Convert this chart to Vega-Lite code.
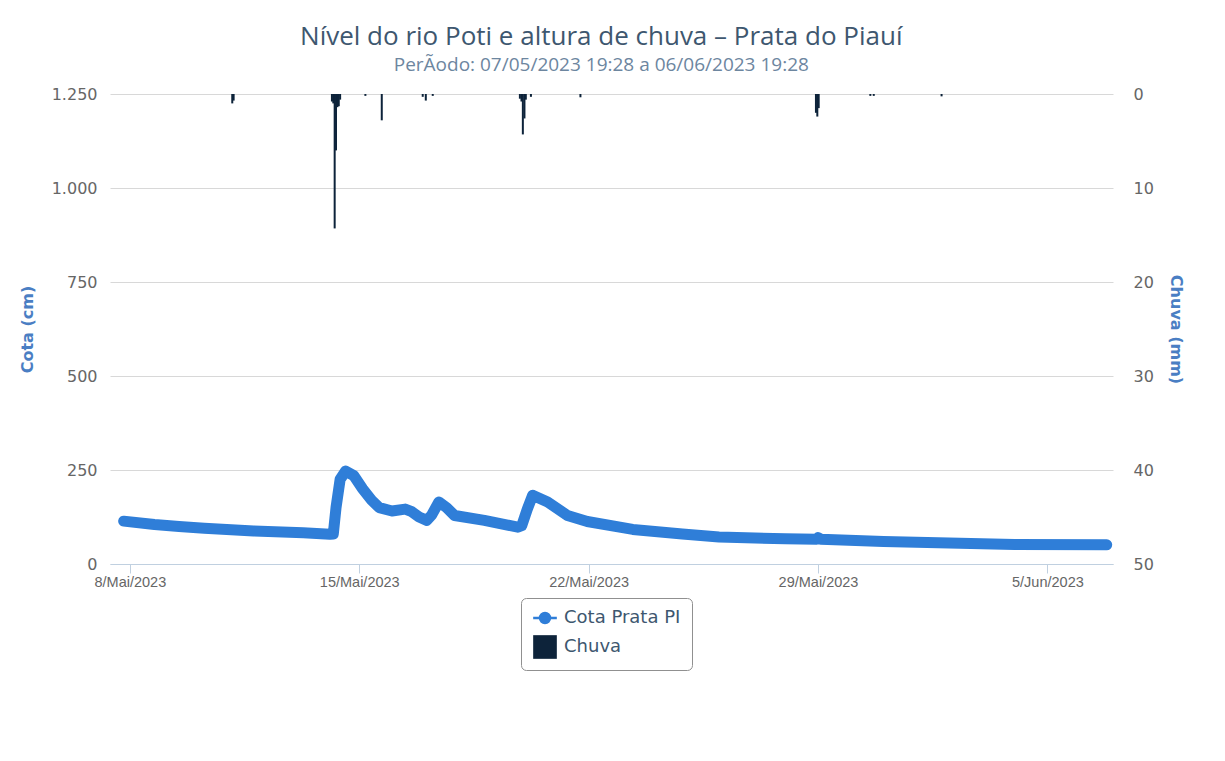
{
  "$schema": "https://vega.github.io/schema/vega-lite/v6.json",
  "width": 1003,
  "height": 470,
  "autosize": {"type": "none"},
  "padding": {"left": 110, "top": 94, "right": 112, "bottom": 197},
  "background": "white",
  "title": {
    "text": "Nível do rio Poti e altura de chuva – Prata do Piauí",
    "subtitle": "PerÃodo: 07/05/2023 19:28 a 06/06/2023 19:28",
    "anchor": "middle",
    "frame": "bounds",
    "font": "Open Sans",
    "fontSize": 26,
    "fontWeight": "normal",
    "color": "#3E576F",
    "subtitleFont": "Open Sans",
    "subtitleFontSize": 19,
    "subtitleColor": "#6D869F",
    "subtitlePadding": 6,
    "offset": 11
  },
  "config": {"view": {"stroke": null}},
  "datasets": {
    "cota": [
      {"t": "2023-05-07T19:28", "v": 114},
      {"t": "2023-05-08T18:00", "v": 105},
      {"t": "2023-05-09T12:00", "v": 100},
      {"t": "2023-05-10T06:30", "v": 95},
      {"t": "2023-05-11T18:40", "v": 88},
      {"t": "2023-05-13T07:00", "v": 83},
      {"t": "2023-05-14T02:30", "v": 79},
      {"t": "2023-05-14T05:00", "v": 80},
      {"t": "2023-05-14T07:00", "v": 150},
      {"t": "2023-05-14T10:00", "v": 225},
      {"t": "2023-05-14T14:00", "v": 247},
      {"t": "2023-05-14T20:00", "v": 235},
      {"t": "2023-05-15T02:30", "v": 200},
      {"t": "2023-05-15T09:00", "v": 170},
      {"t": "2023-05-15T14:40", "v": 150},
      {"t": "2023-05-16T00:00", "v": 141},
      {"t": "2023-05-16T09:40", "v": 146},
      {"t": "2023-05-16T14:00", "v": 140},
      {"t": "2023-05-16T19:50", "v": 125},
      {"t": "2023-05-17T01:30", "v": 116},
      {"t": "2023-05-17T05:00", "v": 130},
      {"t": "2023-05-17T10:20", "v": 165},
      {"t": "2023-05-17T16:00", "v": 150},
      {"t": "2023-05-17T21:50", "v": 129},
      {"t": "2023-05-18T19:40", "v": 116},
      {"t": "2023-05-19T20:10", "v": 98},
      {"t": "2023-05-19T23:00", "v": 102},
      {"t": "2023-05-20T03:00", "v": 145},
      {"t": "2023-05-20T07:00", "v": 183},
      {"t": "2023-05-20T18:00", "v": 165},
      {"t": "2023-05-21T08:30", "v": 129},
      {"t": "2023-05-21T23:00", "v": 113},
      {"t": "2023-05-23T08:20", "v": 92},
      {"t": "2023-05-24T20:40", "v": 80},
      {"t": "2023-05-25T23:30", "v": 72},
      {"t": "2023-05-28T00:00", "v": 67},
      {"t": "2023-05-28T23:00", "v": 66},
      {"t": "2023-05-29T00:00", "v": 70},
      {"t": "2023-05-29T02:00", "v": 66},
      {"t": "2023-05-31T00:00", "v": 60},
      {"t": "2023-06-02T00:00", "v": 56},
      {"t": "2023-06-04T00:00", "v": 52},
      {"t": "2023-06-06T19:28", "v": 51}
    ],
    "chuva": [
      {"t": "2023-05-11T03:00", "mm": 1.0},
      {"t": "2023-05-11T04:00", "mm": 0.7},
      {"t": "2023-05-14T04:00", "mm": 0.8},
      {"t": "2023-05-14T05:00", "mm": 1.0},
      {"t": "2023-05-14T06:00", "mm": 14.3},
      {"t": "2023-05-14T07:00", "mm": 6.0},
      {"t": "2023-05-14T08:00", "mm": 1.4},
      {"t": "2023-05-14T09:00", "mm": 1.3},
      {"t": "2023-05-14T10:00", "mm": 0.6},
      {"t": "2023-05-15T04:30", "mm": 0.2},
      {"t": "2023-05-15T16:30", "mm": 2.8},
      {"t": "2023-05-16T22:30", "mm": 0.3},
      {"t": "2023-05-17T00:45", "mm": 0.7},
      {"t": "2023-05-17T05:50", "mm": 0.2},
      {"t": "2023-05-19T21:40", "mm": 0.5},
      {"t": "2023-05-19T22:50", "mm": 0.8},
      {"t": "2023-05-19T23:50", "mm": 4.3},
      {"t": "2023-05-20T01:00", "mm": 2.6},
      {"t": "2023-05-20T02:00", "mm": 0.6},
      {"t": "2023-05-20T05:45", "mm": 0.3},
      {"t": "2023-05-21T18:00", "mm": 0.35},
      {"t": "2023-05-28T22:30", "mm": 2.0},
      {"t": "2023-05-28T23:30", "mm": 2.4},
      {"t": "2023-05-29T00:30", "mm": 1.5},
      {"t": "2023-05-30T14:20", "mm": 0.2},
      {"t": "2023-05-30T16:50", "mm": 0.2},
      {"t": "2023-06-01T18:30", "mm": 0.25}
    ]
  },
  "layer": [
    {
      "data": {"name": "chuva"},
      "mark": {"type": "bar", "size": 2},
      "encoding": {
        "x": {
          "field": "t",
          "type": "temporal",
          "scale": {"domain": [{"year": 2023, "month": "may", "date": 7, "hours": 13, "minutes": 7}, {"year": 2023, "month": "jun", "date": 6, "hours": 20, "minutes": 24}], "nice": false},
          "axis": {
            "title": null,
            "values": [{"year": 2023, "month": "may", "date": 8}, {"year": 2023, "month": "may", "date": 15}, {"year": 2023, "month": "may", "date": 22}, {"year": 2023, "month": "may", "date": 29}, {"year": 2023, "month": "jun", "date": 5}],
            "labelExpr": "date(datum.value) + '/' + ['Jan','Fev','Mar','Abr','Mai','Jun','Jul','Ago','Set','Out','Nov','Dez'][month(datum.value)] + '/' + year(datum.value)",
            "grid": false,
            "domainColor": "#C0D0E0",
            "tickColor": "#C0D0E0",
            "tickSize": 9,
            "labelFont": "Liberation Sans",
            "labelFontSize": 14.5,
            "labelColor": "#666666",
            "labelPadding": 2,
            "labelFlush": false,
            "labelOverlap": false
          }
        },
        "y": {
          "field": "mm",
          "type": "quantitative",
          "stack": null,
          "scale": {"domain": [0, 50], "reverse": true, "nice": false},
          "axis": {
            "orient": "right",
            "values": [0, 10, 20, 30, 40, 50],
            "grid": false,
            "domain": false,
            "ticks": false,
            "labelPadding": 20,
            "labelFont": "DejaVu Sans",
            "labelFontSize": 16,
            "labelColor": "#666666",
            "title": "Chuva (mm)",
            "titleFont": "DejaVu Sans",
            "titleFontSize": 16,
            "titleFontWeight": "bold",
            "titleColor": "#4a7ec3",
            "titlePadding": 14
          }
        },
        "color": {
          "datum": "Chuva",
          "type": "nominal",
          "scale": {"domain": ["Cota Prata PI", "Chuva"], "range": ["#2f7ed8", "#0d233a"]},
          "legend": {
            "orient": "none",
            "legendX": 411,
            "legendY": 504,
            "direction": "vertical",
            "title": null,
            "strokeColor": "#909090",
            "cornerRadius": 5,
            "padding": 11,
            "symbolOffset": 4,
            "fillColor": "white",
            "labelFont": "DejaVu Sans",
            "labelFontSize": 18,
            "labelColor": "#3E576F",
            "symbolSize": 560,
            "rowPadding": 7,
            "labelOffset": 10,
            "encode": {
              "symbols": {
                "update": {
                  "shape": {"signal": "datum.value === 'Chuva' ? 'square' : 'M-1,0L1,0M-0.42,0A0.42,0.42,0,1,0,0.42,0A0.42,0.42,0,1,0,-0.42,0Z'"},
                  "fill": {"signal": "datum.value === 'Chuva' ? '#0d233a' : '#2f7ed8'"},
                  "stroke": {"signal": "datum.value === 'Chuva' ? '#0d233a' : '#2f7ed8'"},
                  "strokeWidth": {"signal": "datum.value === 'Chuva' ? 0 : 2.5"},
                  "opacity": {"value": 1}
                }
              }
            }
          }
        }
      }
    },
    {
      "data": {"name": "cota"},
      "mark": {"type": "line", "strokeWidth": 11, "strokeCap": "round", "strokeJoin": "round"},
      "encoding": {
        "x": {"field": "t", "type": "temporal"},
        "y": {
          "field": "v",
          "type": "quantitative",
          "scale": {"domain": [0, 1250], "nice": false},
          "axis": {
            "orient": "left",
            "values": [0, 250, 500, 750, 1000, 1250],
            "labelExpr": "replace(format(datum.value, ','), ',', '.')",
            "grid": true,
            "gridColor": "#d8d8d8",
            "domain": false,
            "ticks": false,
            "labelPadding": 13,
            "labelFont": "DejaVu Sans",
            "labelFontSize": 16,
            "labelColor": "#666666",
            "title": "Cota (cm)",
            "titleFont": "DejaVu Sans",
            "titleFontSize": 16,
            "titleFontWeight": "bold",
            "titleColor": "#4a7ec3",
            "titlePadding": 16
          }
        },
        "color": {"datum": "Cota Prata PI", "type": "nominal"}
      }
    }
  ],
  "resolve": {"scale": {"y": "independent"}}
}
